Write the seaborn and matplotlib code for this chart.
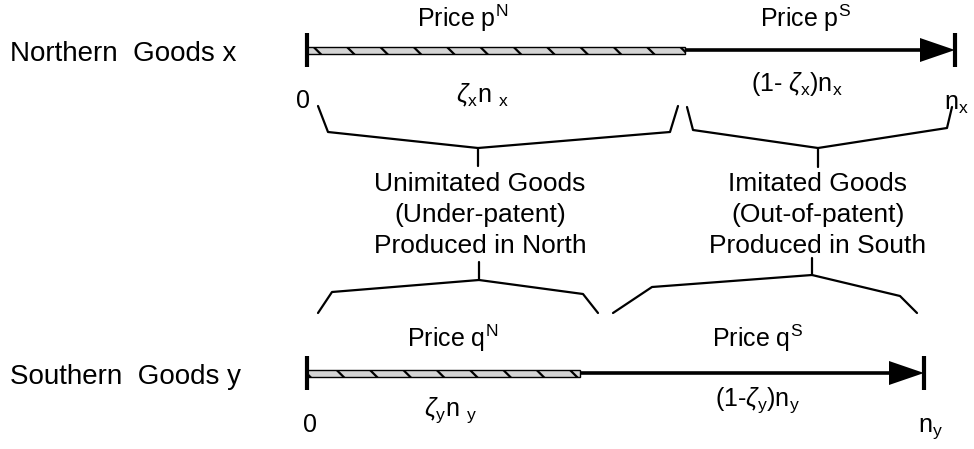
import matplotlib
matplotlib.use("Agg")
import matplotlib.pyplot as plt
from matplotlib.patches import Polygon
import seaborn as sns
import pandas as pd

# ---- data ----
rows = ["Northern  Goods x", "Southern  Goods y"]
line_y = [50, 373]
line_start = [307, 307]
line_end = [955, 924]
split_at = [685, 580]
price_north = ["Price p$^{\\rm N}$", "Price q$^{\\rm N}$"]
price_south = ["Price p$^{\\rm S}$", "Price q$^{\\rm S}$"]
share_north = [r"$\zeta_{\rm x}$n $_{\rm x}$", r"$\zeta_{\rm y}$n $_{\rm y}$"]
share_south = [r"(1- $\zeta_{\rm x}$)n$_{\rm x}$", r"(1-$\zeta_{\rm y}$)n$_{\rm y}$"]
end_labels = [r"n$_{\rm x}$", r"n$_{\rm y}$"]
groups = [["Unimitated Goods", "(Under-patent)", "Produced in North"],
          ["Imitated Goods", "(Out-of-patent)", "Produced in South"]]

# bracket polylines (pixel layout)
brackets = [
    ([318, 328, 478, 670, 678], [106, 132, 148, 132, 106], (478, 148, 166)),
    ([687, 693, 818, 947, 952], [107, 130, 148, 128, 107], (818, 148, 167)),
    ([318, 332, 479, 583, 598], [313, 292, 280, 294, 313], (479, 262, 280)),
    ([613, 652, 812, 900, 917], [313, 287, 275, 296, 313], (812, 258, 275)),
]

sns.set_theme(style="white")
plt.rcParams["font.family"] = ["Liberation Sans", "DejaVu Sans"]
plt.rcParams["text.color"] = "black"
plt.rcParams["mathtext.fontset"] = "custom"
plt.rcParams["mathtext.rm"] = "Liberation Sans"
plt.rcParams["mathtext.it"] = "Liberation Sans:italic"
plt.rcParams["mathtext.bf"] = "Liberation Sans:bold"
plt.rcParams["hatch.linewidth"] = 1.6

fig = plt.figure(figsize=(9.74, 4.49), dpi=100)
ax = fig.add_axes([0, 0, 1, 1])
ax.set_xlim(0, 974)
ax.set_ylim(449, 0)
ax.axis("off")

head_len, head_half = 35, 12
for i in range(2):
    y, x0, x1, xs = line_y[i], line_start[i], line_end[i], split_at[i]
    df = pd.DataFrame({"x": [x0, x1 - head_len + 2], "y": [y, y]})
    sns.lineplot(data=df, x="x", y="y", ax=ax, color="black", lw=2.6,
                 estimator=None, sort=False, legend=False)
    ax.add_patch(Polygon([[x1 - head_len, y - head_half], [x1 - head_len, y + head_half], [x1, y]],
                         closed=True, color="black", lw=0))
    ax.barh(y, xs - x0, left=x0, height=7, facecolor="#d4d4d4", edgecolor="black",
            hatch="\\", lw=1.0, zorder=3)
    for xt in (x0, x1):
        ax.plot([xt, xt], [y - 17, y + 17], color="black", lw=3, solid_capstyle="butt", zorder=4)
    ax.text(10, y + 11, rows[i], fontsize=20, ha="left", va="baseline")

# price labels
ax.text(463, 27, price_north[0], fontsize=18, ha="center", va="baseline")
ax.text(805, 27, price_south[0], fontsize=18, ha="center", va="baseline")
ax.text(453, 347, price_north[1], fontsize=18, ha="center", va="baseline")
ax.text(757, 347, price_south[1], fontsize=18, ha="center", va="baseline")

# share labels
ax.text(482, 102, share_north[0], fontsize=18, ha="center", va="baseline")
ax.text(797, 91, share_south[0], fontsize=18, ha="center", va="baseline")
ax.text(450, 416, share_north[1], fontsize=18, ha="center", va="baseline")
ax.text(757, 406, share_south[1], fontsize=18, ha="center", va="baseline")

# endpoints
ax.text(303, 108, "0", fontsize=18, ha="center", va="baseline")
ax.text(944, 110, end_labels[0], fontsize=18, ha="left", va="baseline")
ax.text(310, 432, "0", fontsize=18, ha="center", va="baseline")
ax.text(918, 432, end_labels[1], fontsize=18, ha="left", va="baseline")

# brackets
for bx, by, (sx, sy0, sy1) in brackets:
    bdf = pd.DataFrame({"x": bx, "y": by})
    sns.lineplot(data=bdf, x="x", y="y", ax=ax, color="black", lw=1.6,
                 estimator=None, sort=False, legend=False)
    ax.plot([sx, sx], [sy0, sy1], color="black", lw=1.6)

# group descriptions
centers = [480, 818]
baselines = [191, 222, 253]
for g, cx in zip(groups, centers):
    for txt, yb in zip(g, baselines):
        ax.text(cx, yb, txt, fontsize=19, ha="center", va="baseline")

ax.set_xlabel("")
ax.set_ylabel("")
fig.savefig("out.png", dpi=100)
